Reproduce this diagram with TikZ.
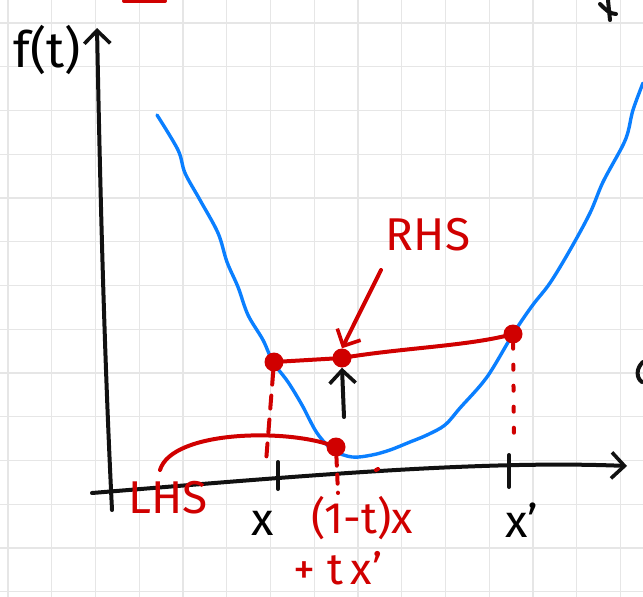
\documentclass[tikz,border=0pt]{standalone}
\usepackage{fontspec}
\setmainfont{Fira Sans}
\usetikzlibrary{arrows.meta}
\definecolor{inkBlack}{HTML}{111111}
\definecolor{inkRed}{HTML}{D00000}
\definecolor{inkBlue}{HTML}{0A7FFF}
\definecolor{gridGray}{HTML}{E6E6E6}

\begin{document}
\begin{tikzpicture}[x=1pt,y=-1pt,line cap=round,line join=round,
    every node/.style={inner sep=1pt}]
  \tikzstyle{pen}=[line width=4pt]
  \tikzstyle{black pen}=[pen,inkBlack]
  \tikzstyle{red pen}=[pen,inkRed]
  \tikzstyle{blue pen}=[line width=3.4pt,inkBlue]
  \tikzstyle{barb}=[-{Straight Barb[length=13pt,width=26pt,line width=3.6pt]}]
  \tikzstyle{dot}=[circle,fill=inkRed,inner sep=0pt,minimum size=19pt]
  \tikzstyle{hand}=[font=\fontsize{46}{48}\selectfont]
  \tikzstyle{redhand}=[font=\fontsize{44}{46}\selectfont,text=inkRed]
  % paper
  \fill[white] (0,0) rectangle (643,597);
  \useasboundingbox (0,0) rectangle (643,597);
  \foreach \i in {0,...,14} \draw[gridGray,line width=1.2pt] (8+43.75*\i,0) -- (8+43.75*\i,597);
  \foreach \j in {0,...,13} \draw[gridGray,line width=1.2pt] (0,23+43.75*\j) -- (643,23+43.75*\j);
  % axes
  \coordinate (yfoot) at (112,510);
  \coordinate (ytip) at (97,28);
  \coordinate (xfoot) at (92,493);
  \coordinate (xtip) at (627,466);
  \draw[black pen,barb] (yfoot) .. controls (104,350) and (100,180) .. (ytip);
  \draw[black pen,barb] (xfoot) .. controls (300,476) and (480,460) .. (xtip);
  \node[hand,font=\fontsize{50}{52}\selectfont] (fy) at (47,50) {f(t)};
  % convex function
  \draw[blue pen] plot[smooth,tension=0.55] coordinates {(157,115) (178,150)
    (185,173) (200,200) (218,233) (227,262) (238,287) (248,315) (263,340)
    (273,362) (288,382) (302,405) (317,433) (333,450) (352,457) (372,455)
    (390,450) (410,442) (427,435) (445,425) (460,408) (487,377) (513,334)
    (532,306) (550,283) (570,250) (590,213) (603,182) (622,147) (628,132)
    (633,110) (643,83)};
  % ticks on the x axis
  \coordinate (tx) at (278,462);
  \coordinate (txb) at (278,489);
  \coordinate (txp) at (509,455);
  \coordinate (txpb) at (509,487);
  \draw[black pen] (tx) -- (txb);
  \draw[black pen] (txp) -- (txpb);
  \node[hand,below=4pt] (lx) at (263,506) {x};
  \node[hand,below=4pt] (lxp) at (522,498) {x'};
  % points
  \node[dot] (a) at (274,362) {};
  \node[dot] (b) at (342,358) {};
  \node[dot] (c) at (513,334) {};
  \node[dot] (d) at (336,447) {};
  \draw[red pen] (a.center) -- (b.center)
    .. controls (400,348) and (470,346) .. (c.center);
  % projections
  \coordinate (ax) at (266,462);
  \coordinate (dx) at (338,493);
  \coordinate (cx) at (514,440);
  \draw[red pen,dash pattern=on 13pt off 11pt] (a) -- (ax);
  \draw[red pen,dash pattern=on 9pt off 9pt] (d) -- (dx);
  \draw[red pen,dash pattern=on 5pt off 16pt] (c) -- (cx);
  \draw[red pen] (376,470) -- (378,469);
  % labels
  \node[redhand,font=\fontsize{46}{48}\selectfont] (rhs) at (428,235) {RHS};
  \node[redhand,font=\fontsize{46}{48}\selectfont] (lhs) at (168,498) {LHS};
  \node[redhand] (comb) at (362,518) {(1-t)x};
  \node[redhand,inner sep=0pt] (comb2) at (338,568) {+\hspace{12pt}t\,x'};
  \coordinate (rhsfoot) at (381,270);
  \draw[red pen,barb] (rhsfoot) -- (b.north);
  \coordinate (lhsfoot) at (160,470);
  \draw[red pen] (lhsfoot) .. controls (172,430) and (290,428) .. (d.center);
  \coordinate (upfoot) at (344,417);
  \draw[black pen,barb] (upfoot) -- (b.south);
  % cut-off strokes at the edges
  \draw[red pen] (124,1) -- (165,1);
  \draw[black pen] (600,4) .. controls (606,10) and (610,14) .. (616,14);
  \draw[black pen] (608,0) -- (610,20);
  \draw[black pen] (643,362) .. controls (636,368) and (636,378) .. (642,382);
\end{tikzpicture}
\end{document}
